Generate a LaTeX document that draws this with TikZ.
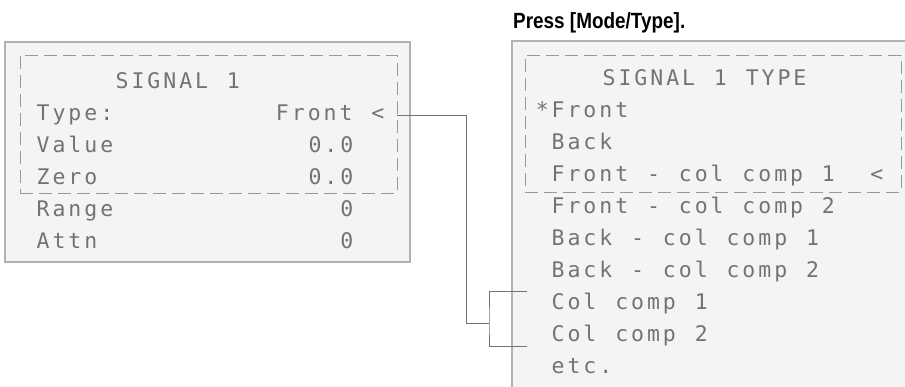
\documentclass[tikz,border=0pt]{standalone}
\usepackage{fontspec}
\usepackage{tikz}
\newfontfamily\lcdfont{DejaVu Sans Mono}
\newfontfamily\pressfont{Liberation Sans}
\definecolor{panel}{gray}{0.955}
\newlength\lcdpitch
\setlength\lcdpitch{15.9pt}
% one fixed cell per character, as on the display
\ExplSyntaxOn
\NewDocumentCommand \lcd { m }
  { \str_map_inline:nn {#1} { \makebox[\lcdpitch][c]{##1} } }
\ExplSyntaxOff

\begin{document}
\begin{tikzpicture}[x=1pt, y=-1pt,
        row/.style={anchor=base west, inner sep=0pt, text=black!55, font=\lcdfont\fontsize{21.5}{21.5}\selectfont},
        val/.style={row, anchor=base east},
        frame/.style={draw=black!30, line width=1.2pt, fill=panel},
        window/.style={draw=black!40, line width=0.8pt, dash pattern=on 13pt off 6pt, inner sep=0pt},
        link/.style={draw=black!55, line width=0.9pt}]
        \useasboundingbox (0,0) rectangle (905,387);

        % The left screen
        \draw[frame] (5,42) rectangle (410,262);
        \node[window, minimum width=377pt, minimum height=138pt] (lwin) at (208.5,124) {};
        \node[row] (sig) at (114,89) {\lcd{SIGNAL 1}};
        \node[row] (type) at (35,121) {\lcd{Type:}};
        \node[row] (value) at (35,153) {\lcd{Value}};
        \node[row] (zero) at (35,185) {\lcd{Zero}};
        \node[row] (range) at (35,217) {\lcd{Range}};
        \node[row] (attn) at (35,249) {\lcd{Attn}};
        \node[val] (typev) at (386,121) {\lcd{Front <}};
        \node[val] (valuev) at (355,153) {\lcd{0.0}};
        \node[val] (zerov) at (355,185) {\lcd{0.0}};
        \node[val] (rangev) at (355,217) {\lcd{0}};
        \node[val] (attnv) at (355,249) {\lcd{0}};

        % The right screen, running off the page
        \node[anchor=base west, inner sep=0pt, font=\pressfont\bfseries\fontsize{22}{22}\selectfont] (press) at (513,29) {\scalebox{0.86}[1]{Press [Mode/Type].}};
        \fill[panel] (512,41) rectangle (905,387);
        \draw[black!30, line width=1.2pt] (512,387) -- (512,41) -- (905,41);
        \node[window, minimum width=376pt, minimum height=137pt] (rwin) at (713,123.5) {};
        \node[row] (head) at (601,86) {\lcd{SIGNAL 1 TYPE}};
        \node[row] (opt1) at (534.1,117.9) {\lcd{*Front}};
        \node[row] (opt2) at (550,149.8) {\lcd{Back}};
        \node[row] (opt3) at (550,181.7) {\lcd{Front - col comp 1}};
        \node[val] (cursor) at (885,181.7) {\lcd{<}};
        \node[row] (opt4) at (550,213.6) {\lcd{Front - col comp 2}};
        \node[row] (opt5) at (550,245.5) {\lcd{Back - col comp 1}};
        \node[row] (opt6) at (550,277.4) {\lcd{Back - col comp 2}};
        \node[row] (opt7) at (550,309.3) {\lcd{Col comp 1}};
        \node[row] (opt8) at (550,341.2) {\lcd{Col comp 2}};
        \node[row] (opt9) at (550,373.1) {\lcd{etc.}};

        % The link from Type to the colour compensated choices
        \coordinate (drop) at (466,323);
        \coordinate (brk) at (489,323);
        \coordinate (tick) at (527,0);
        \draw[link] ([yshift=3pt]lwin.east |- typev.mid) -| (drop) -- (brk);
        \draw[link] ([yshift=1pt]opt7.north -| tick) -| (brk) |- ([yshift=-1pt]opt8.south -| tick);

    \end{tikzpicture}
\end{document}
